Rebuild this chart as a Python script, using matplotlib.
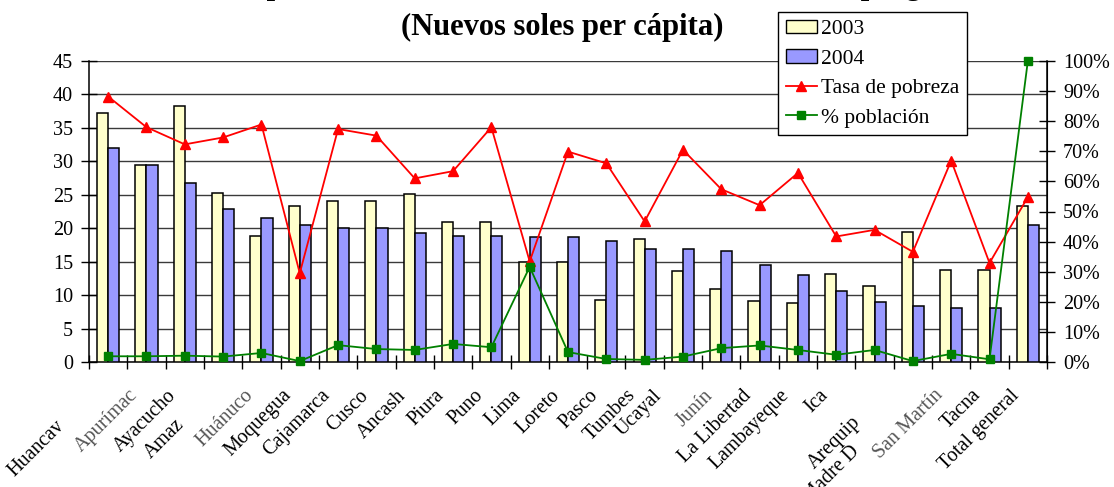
import matplotlib
matplotlib.use("Agg")
import matplotlib.pyplot as plt
from matplotlib.transforms import offset_copy
from matplotlib.ticker import PercentFormatter, MultipleLocator, FixedLocator, NullFormatter
from matplotlib.patches import Patch
from matplotlib.lines import Line2D
import numpy as np

# ---- data -------------------------------------------------------------
regiones = ["Huancav", "Apurímac", "Ayacucho", "Amaz", "Huánuco", "Moquegua",
            "Cajamarca", "Cusco", "Ancash", "Piura", "Puno", "Lima", "Loreto",
            "Pasco", "Tumbes", "Ucayal", "Junín", "La Libertad", "Lambayeque",
            "Ica", "Arequip", "Madre D", "San Martín", "Tacna", "Total general"]
gasto_2003 = [37.3, 29.5, 38.2, 25.2, 18.9, 23.3, 24.1, 24.1, 25.1, 21.0, 21.0,
              14.9, 14.9, 9.2, 18.4, 13.6, 10.9, 9.1, 8.8, 13.2, 11.3, 19.5,
              13.7, 13.7, 23.3]
gasto_2004 = [32.0, 29.5, 26.7, 22.9, 21.6, 20.5, 20.1, 20.1, 19.3, 18.9, 18.9,
              18.7, 18.7, 18.1, 16.9, 16.9, 16.6, 14.5, 13.0, 10.6, 8.9, 8.4,
              8.0, 8.0, 20.5]
tasa_pobreza = [88.2, 78.0, 72.3, 74.6, 78.9, 29.5, 77.4, 75.2, 61.0, 63.4, 78.0,
                33.4, 69.9, 66.0, 46.7, 70.5, 57.4, 52.1, 62.8, 41.7, 43.9, 36.6,
                66.9, 32.9, 54.8]
pct_poblacion = [1.9, 1.9, 2.1, 1.8, 3.0, 0.3, 5.6, 4.3, 4.0, 6.0, 4.9, 31.6,
                 3.3, 1.0, 0.7, 1.8, 4.6, 5.5, 4.0, 2.4, 4.0, 0.3, 2.7, 0.9, 100.0]

titulo_1 = "Comparación del monto total anual transferido al programa"
titulo_2 = "(Nuevos soles per cápita)"

# ---- style ------------------------------------------------------------
plt.rcParams["font.family"] = ["Liberation Serif", "DejaVu Serif"]
FS = 14.5
C03 = "#FFFFCC"
C04 = "#9999FF"
RED = "#FF0000"
GREEN = "#008000"

W, H, DPI = 1114, 487, 100
fig = plt.figure(figsize=(W / DPI, H / DPI), dpi=DPI)
L, R, T, B = 89, 1047, 61, 362
ax = fig.add_axes([L / W, 1 - B / H, (R - L) / W, (B - T) / H])
ax2 = ax.twinx()

x = np.arange(len(regiones))
bw = 0.29
ax.bar(x - bw / 2, gasto_2003, bw, color=C03, edgecolor="black", linewidth=1.1, zorder=3)
ax.bar(x + bw / 2, gasto_2004, bw, color=C04, edgecolor="black", linewidth=1.1, zorder=3)

ax.set_xlim(-0.5, len(regiones) - 0.5)
ax.set_ylim(0, 45)
ax.yaxis.set_major_locator(MultipleLocator(5))
ax.grid(axis="y", color="#3a3a3a", linewidth=1.0, zorder=0)
ax.set_axisbelow(True)

ax.xaxis.set_major_locator(FixedLocator(np.arange(-0.5, len(regiones), 1.0)))
ax.xaxis.set_major_formatter(NullFormatter())
ax.tick_params(axis="x", direction="inout", length=10, width=1.0, color="black")
ax.tick_params(axis="y", direction="inout", length=11, width=1.0, labelsize=FS, pad=6)

ax.spines["top"].set_visible(False)
ax2.spines["top"].set_visible(False)
ax.spines["left"].set_linewidth(1.1)
ax.spines["bottom"].set_linewidth(1.1)
ax2.spines["right"].set_linewidth(1.1)
ax2.spines["left"].set_visible(False)
ax2.spines["bottom"].set_visible(False)

ax2.set_ylim(0, 100)
ax2.yaxis.set_major_locator(MultipleLocator(10))
ax2.yaxis.set_major_formatter(PercentFormatter(100, decimals=0))
ax2.tick_params(axis="y", direction="inout", length=11, width=1.0, labelsize=FS, pad=6)

ax2.plot(x, tasa_pobreza, color=RED, linewidth=1.3, marker="^", markersize=6.5,
         markeredgecolor=RED, zorder=5, clip_on=False)
ax2.plot(x, pct_poblacion, color=GREEN, linewidth=1.3, marker="s", markersize=5.5,
         markeredgecolor=GREEN, zorder=5, clip_on=False)

# category labels, rotated 45 degrees below the axis
px = 72 / DPI
base_dx, base_dy = -18, 24
shift = {0: (-35, 31), 3: (-30, 29), 15: (-13, 0), 20: (-5, 27), 21: (-45, 56)}
soft = {"Apurímac", "Huánuco", "Junín", "San Martín"}
for i, name in enumerate(regiones):
    sx, sy = shift.get(i, (0, 0))
    tr = offset_copy(ax.get_xaxis_transform(), fig=fig,
                     x=(base_dx + sx) * px, y=-(base_dy + sy) * px, units="points")
    ax.text(i, 0, name, transform=tr, rotation=45, rotation_mode="anchor",
            ha="right", va="top", fontsize=FS,
            color="#555555" if name in soft else "black")

# title (first line runs past the top edge)
fig.text(598 / W, 1 + 6 / H, titulo_1, ha="center", va="baseline",
         fontsize=22, fontweight="bold")
fig.text(0.505, 1 - 35 / H, titulo_2, ha="center", va="baseline",
         fontsize=22, fontweight="bold")

handles = [Patch(facecolor=C03, edgecolor="black", linewidth=1.0),
           Patch(facecolor=C04, edgecolor="black", linewidth=1.0),
           Line2D([], [], color=RED, marker="^", markersize=6.5, linewidth=1.3),
           Line2D([], [], color=GREEN, marker="s", markersize=5.5, linewidth=1.3)]
labels = ["2003", "2004", "Tasa de pobreza", "% población"]
leg = fig.legend(handles, labels, loc="upper left",
                 bbox_to_anchor=(778 / W, 1 - 12 / H), fontsize=15.5,
                 frameon=True, fancybox=False, edgecolor="black", framealpha=1,
                 handlelength=1.45, handleheight=0.6, handletextpad=0.2,
                 labelspacing=0.47, borderpad=0.35, borderaxespad=0)
leg.get_frame().set_linewidth(1.0)
leg.set_zorder(10)

fig.savefig("out.png", dpi=DPI)
